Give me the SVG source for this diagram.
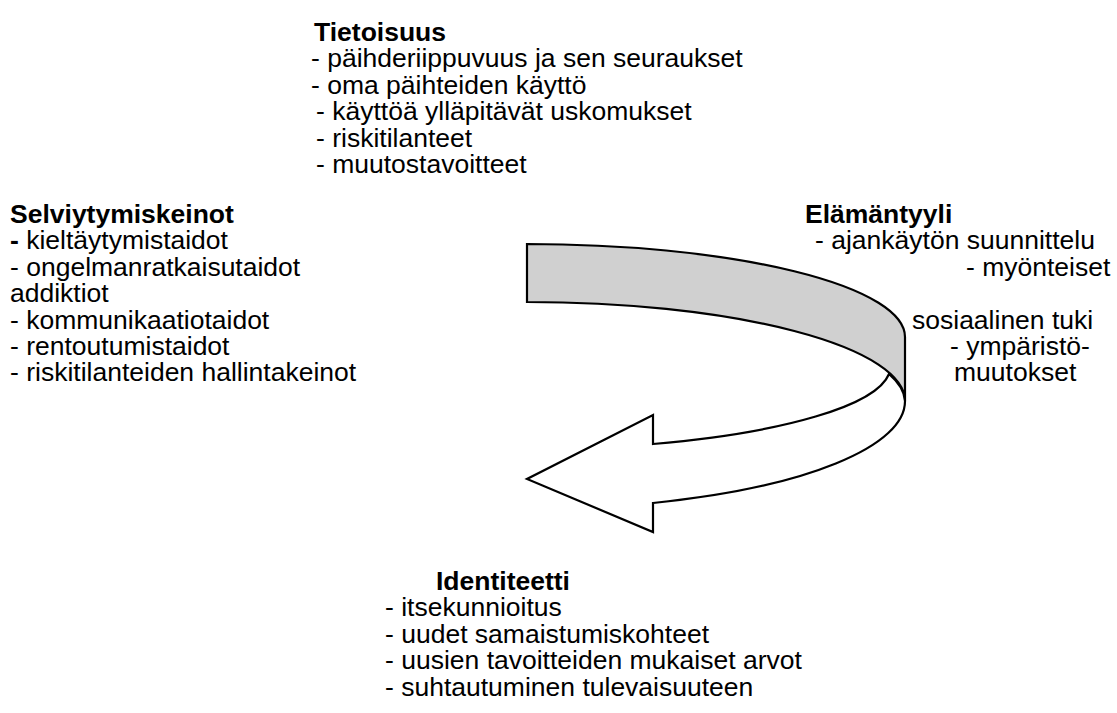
<svg xmlns="http://www.w3.org/2000/svg" width="1117" height="713" viewBox="0 0 1117 713">
<style>
text{font-family:"Liberation Sans",Arial,sans-serif;font-size:26.5px;fill:#000}
.b{font-weight:bold}
.shape{stroke:#000;stroke-width:2.2;stroke-linejoin:miter}
</style>
<rect width="1117" height="713" fill="#fff"/>
<g id="connectors">
<path class="shape" fill="#d0d0d0" d="M527,244 A378,93 0 0 1 905,337 L905,401 A378,99 0 0 0 527,302 Z"/>
<path class="shape" fill="#fff" d="M889,374 A370,83 0 0 1 653,444 L653,415 L527,479 L653,532 L653,503 A378,108 0 0 0 905,401 A378,99 0 0 0 889,374 Z"/>
</g>
<g id="tietoisuus">
<text class="b" x="314" y="41">Tietoisuus</text>
<text x="311" y="67.4">- päihderiippuvuus ja sen seuraukset</text>
<text x="311" y="93.8">- oma päihteiden käyttö</text>
<text x="316" y="120.2">- käyttöä ylläpitävät uskomukset</text>
<text x="316" y="146.6">- riskitilanteet</text>
<text x="316" y="173">- muutostavoitteet</text>
</g>
<g id="selviytymiskeinot">
<text class="b" x="10" y="223">Selviytymiskeinot</text>
<text x="10" y="249.4"><tspan class="b">-</tspan> kieltäytymistaidot</text>
<text x="10" y="275.8">- ongelmanratkaisutaidot</text>
<text x="10" y="302.2">addiktiot</text>
<text x="10" y="328.6">- kommunikaatiotaidot</text>
<text x="10" y="355">- rentoutumistaidot</text>
<text x="10" y="381.4">- riskitilanteiden hallintakeinot</text>
</g>
<g id="elamantyyli">
<text class="b" x="805" y="223">Elämäntyyli</text>
<text x="815" y="249.4">- ajankäytön suunnittelu</text>
<text x="966" y="275.8">- myönteiset</text>
<text x="912" y="328.6">sosiaalinen tuki</text>
<text x="950" y="355">- ympäristö-</text>
<text x="954" y="381.4">muutokset</text>
</g>
<g id="identiteetti">
<text class="b" x="436" y="590">Identiteetti</text>
<text x="385" y="616.4">- itsekunnioitus</text>
<text x="385" y="642.8">- uudet samaistumiskohteet</text>
<text x="385" y="669.2">- uusien tavoitteiden mukaiset arvot</text>
<text x="385" y="695.6">- suhtautuminen tulevaisuuteen</text>
</g>
</svg>
